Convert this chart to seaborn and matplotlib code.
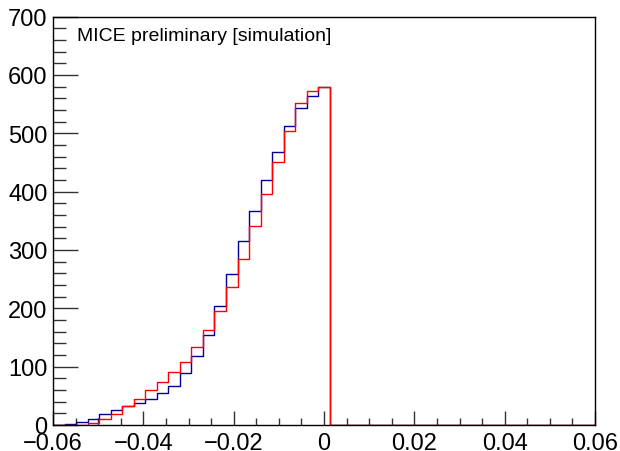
import numpy as np
import pandas as pd
import matplotlib
matplotlib.use("Agg")
import matplotlib.pyplot as plt
from matplotlib.ticker import MultipleLocator
import seaborn as sns

# 47 bins from -0.06 to 0.06 (ROOT style histogram)
x_min, x_max, n_bins = -0.06, 0.06, 47

blue_counts = [0, 2, 5, 10, 18, 25, 32, 37, 45, 54, 67, 89, 118, 155, 204, 258,
               316, 367, 419, 467, 512, 544, 564, 580,
               0, 0, 0, 0, 0, 0, 0, 0, 0, 0, 0, 0, 0, 0, 0, 0, 0, 0, 0, 0, 0, 0, 0]
red_counts = [0, 0, 0, 4, 10, 19, 33, 45, 60, 73, 90, 108, 133, 162, 196, 237,
              285, 341, 396, 451, 504, 552, 573, 580,
              0, 0, 0, 0, 0, 0, 0, 0, 0, 0, 0, 0, 0, 0, 0, 0, 0, 0, 0, 0, 0, 0, 0]
label_text = "MICE preliminary [simulation]"

edges = np.linspace(x_min, x_max, n_bins + 1)
centers = 0.5 * (edges[:-1] + edges[1:])
df = pd.DataFrame({"x": centers, "blue": blue_counts, "red": red_counts})

sns.set_style("white")
plt.rcParams['font.family'] = ['Liberation Sans', 'DejaVu Sans']

fig = plt.figure(figsize=(6.2, 4.52), dpi=100)
ax = fig.add_axes([53 / 620, 1 - 426 / 452, 542 / 620, 408.5 / 452])

sns.histplot(data=df, x="x", weights="blue", bins=n_bins, binrange=(x_min, x_max),
             element="step", fill=False, color="#000099", linewidth=1.0, ax=ax)
sns.histplot(data=df, x="x", weights="red", bins=n_bins, binrange=(x_min, x_max),
             element="step", fill=False, color="#ff0000", linewidth=1.0, ax=ax)

ax.set_xlim(x_min, x_max)
ax.set_ylim(0, 700)
ax.set_xlabel("")
ax.set_ylabel("")

ax.xaxis.set_major_locator(MultipleLocator(0.02))
ax.xaxis.set_minor_locator(MultipleLocator(0.005))
ax.yaxis.set_major_locator(MultipleLocator(100))
ax.yaxis.set_minor_locator(MultipleLocator(20))
ax.xaxis.set_major_formatter(plt.FuncFormatter(lambda v, p: "0" if abs(v) < 1e-9 else f"{v:.2f}".replace("-", "\u2212")))
ax.tick_params(axis="x", which="major", direction="in", length=10, width=1, labelsize=17, pad=5)
ax.tick_params(axis="x", which="minor", direction="in", length=5, width=1)
ax.tick_params(axis="y", which="major", direction="in", length=18, width=1, labelsize=17, pad=4)
ax.tick_params(axis="y", which="minor", direction="in", length=9, width=1)
ax.tick_params(which="both", bottom=True, left=True, top=False, right=False, colors="#333333", labelcolor="black")

for s in ax.spines.values():
    s.set_color("black")
    s.set_linewidth(1.0)

ax.text(0.044, 0.975, label_text, transform=ax.transAxes, fontsize=14, color="black",
        ha="left", va="top")

fig.savefig("out.png", dpi=100)
